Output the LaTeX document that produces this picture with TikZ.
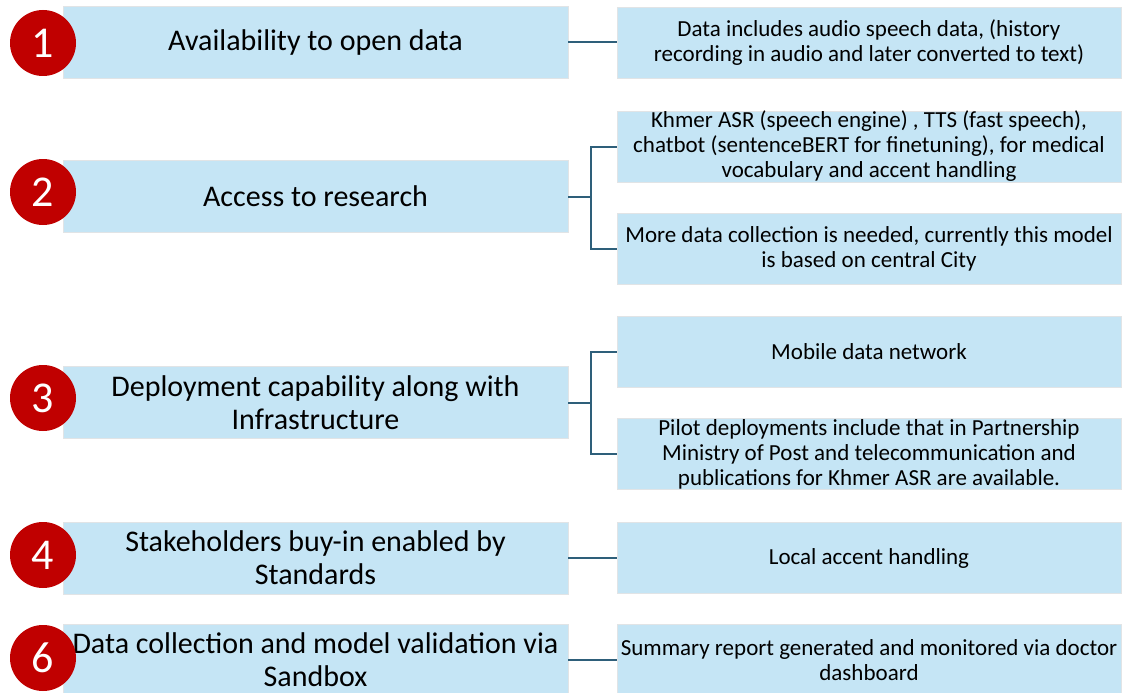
\documentclass[tikz,border=0pt]{standalone}
\usepackage{fontspec}
\setmainfont{Carlito}
\usepackage{xcolor}
\usetikzlibrary{positioning,calc}
\definecolor{boxblue}{RGB}{197,229,245}
\definecolor{boxedge}{RGB}{225,228,230}
\definecolor{numred}{RGB}{192,0,0}
\definecolor{linkteal}{RGB}{46,95,122}

\begin{document}
\begin{tikzpicture}[x=1pt,y=-1pt,
    leftbox/.style={fill=boxblue, draw=boxedge, line width=0.8pt, minimum width=505pt, minimum height=72pt,
        align=center, inner sep=0pt, font=\fontsize{30}{33}\selectfont},
    rightbox/.style={fill=boxblue, draw=boxedge, line width=0.8pt, minimum width=504pt, minimum height=71pt,
        align=center, inner sep=0pt, font=\fontsize{23}{25}\selectfont},
    numdot/.style={circle, fill=numred, minimum size=66pt, inner sep=0pt, text=white,
        font=\fontsize{44}{44}\selectfont},
    link/.style={draw=linkteal, line width=2pt}]
    \useasboundingbox (0,0) rectangle (1128,693);
    \begin{scope}
    \clip (0,0) rectangle (1128,693);

    % Left column
    \node[leftbox] (l1) at (315.5,42.5) {Availability to open data};
    \node[leftbox] (l2) at (315.5,196.5) {Access to research};
    \node[leftbox] (l3) at (315.5,402.5) {Deployment capability along with\\Infrastructure};
    \node[leftbox] (l4) at (315.5,558) {Stakeholders buy-in enabled by\\Standards};
    \node[leftbox] (l6) at (315.5,660) {Data collection and model validation via\\Sandbox};

    % Numbers
    \node[numdot] (c1) at (43,43) {1};
    \node[numdot] (c2) at (43,192) {2};
    \node[numdot] (c3) at (43,398) {3};
    \node[numdot] (c4) at (43,555) {4};
    \node[numdot] (c6) at (43,658) {6};

    % Right column
    \node[rightbox] (r1) at (869,42.5) {Data includes audio speech data, (history\\recording in audio and later converted to text)};
    \node[rightbox] (r2a) at (869,146.5) {Khmer ASR (speech engine) , TTS (fast speech),\\chatbot (sentenceBERT for finetuning), for medical\\vocabulary and accent handling};
    \node[rightbox] (r2b) at (869,248.5) {More data collection is needed, currently this model\\is based on central City};
    \node[rightbox] (r3a) at (869,351.5) {Mobile data network};
    \node[rightbox] (r3b) at (869,454) {Pilot deployments include that in Partnership\\Ministry of Post and telecommunication and\\publications for Khmer ASR are available.};
    \node[rightbox] (r4) at (869,558) {Local accent handling};
    \node[rightbox] (r6) at (869,660) {Summary report generated and monitored via doctor\\dashboard};

    % Connectors
    \draw[link] (l1.east) -- (r1.west);
    \draw[link] (l2.east) -- ++(23,0) coordinate (k2);
    \draw[link] (k2) |- (r2a.west);
    \draw[link] (k2) |- (r2b.west);
    \draw[link] (l3.east) -- ++(23,0) coordinate (k3);
    \draw[link] (k3) |- (r3a.west);
    \draw[link] (k3) |- (r3b.west);
    \draw[link] (l4.east) -- (r4.west);
    \draw[link] (l6.east) -- (r6.west);
    \end{scope}
\end{tikzpicture}
\end{document}
